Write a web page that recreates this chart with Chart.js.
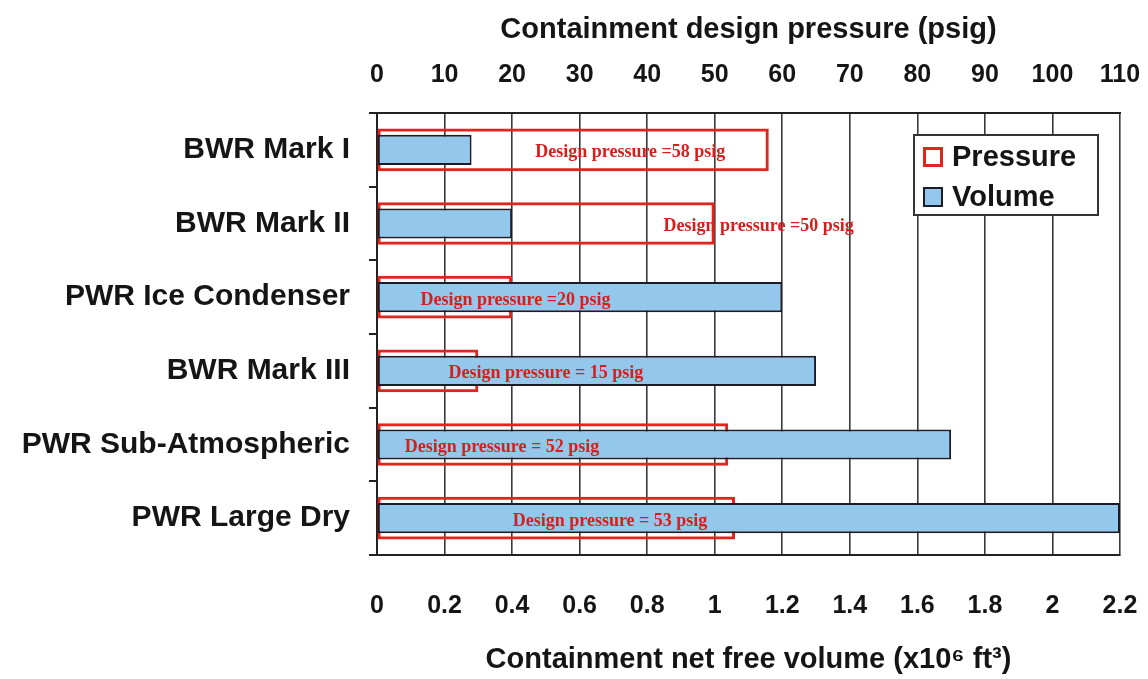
<!DOCTYPE html>
<html><head><meta charset="utf-8">
<script src="https://cdn.jsdelivr.net/npm/chart.js@4.4.0/dist/chart.umd.min.js"></script>
<style>html,body{margin:0;padding:0;background:#fff;} #wrap{width:1148px;height:679px;position:relative;}</style>
</head><body><div id="wrap"><canvas id="c"></canvas></div>
<script>
// ---- data ----
const categories = ['BWR Mark I', 'BWR Mark II', 'PWR Ice Condenser', 'BWR Mark III', 'PWR Sub-Atmospheric', 'PWR Large Dry'];
const pressurePsig = [58, 50, 20, 15, 52, 53];
const volumeMft3 = [0.28, 0.40, 1.20, 1.30, 1.70, 2.20];
const pressureTicks = [0, 10, 20, 30, 40, 50, 60, 70, 80, 90, 100, 110];
const volumeTicks = [0, 0.2, 0.4, 0.6, 0.8, 1, 1.2, 1.4, 1.6, 1.8, 2, 2.2];
const labelEq = ['=', '=', '=', '= ', '= ', '= '];
// ---- annotation placement (volume-axis units) ----
const labelCenterVolume = [0.75, 1.13, 0.41, 0.50, 0.37, 0.69];

const FONT = "'Liberation Sans', Arial, sans-serif";
const RED = '#e0251e';
const BLUE = '#93c8ec';
const DARK = '#1c1c28';

const barLabels = {
  id: 'barLabels',
  afterDatasetsDraw(chart) {
    const {ctx} = chart; const xs = chart.scales.x; const ys = chart.scales.y;
    ctx.save();
    ctx.font = "bold 18px 'Liberation Serif', 'Times New Roman', serif";
    ctx.fillStyle = '#d61f1b'; ctx.textAlign = 'center'; ctx.textBaseline = 'middle';
    categories.forEach((c, i) => {
      const txt = 'Design pressure ' + labelEq[i] + pressurePsig[i] + ' psig';
      ctx.fillText(txt, xs.getPixelForValue(labelCenterVolume[i]), ys.getPixelForValue(i) + 3);
    });
    ctx.restore();
  }
};

const boxLegend = {
  id: 'boxLegend',
  afterDraw(chart) {
    const {ctx, chartArea: ca} = chart;
    const w = 184, h = 80;
    const x = ca.right - 22 - w, y = ca.top + 22;
    ctx.save();
    ctx.fillStyle = '#fff'; ctx.fillRect(x, y, w, h);
    ctx.strokeStyle = '#333'; ctx.lineWidth = 2; ctx.strokeRect(x, y, w, h);
    const ds = chart.data.datasets;
    ds.forEach((d, i) => {
      const cy = y + 22 + i * 40;
      const ix = x + 9, s = 20;
      if (d.fillLegend) { ctx.fillStyle = d.backgroundColor; ctx.fillRect(ix, cy - s / 2, s, s); }
      ctx.strokeStyle = d.borderColor; ctx.lineWidth = d.borderWidth;
      ctx.strokeRect(ix + d.borderWidth / 2, cy - s / 2 + d.borderWidth / 2, s - d.borderWidth, s - d.borderWidth);
      ctx.fillStyle = '#151515'; ctx.font = 'bold 29px ' + FONT; ctx.textAlign = 'left'; ctx.textBaseline = 'middle';
      ctx.fillText(d.label, ix + s + 9, cy + 1);
    });
    ctx.restore();
  }
};

function noSidePad(s) { s.paddingLeft = 0; s.paddingRight = 0; }

new Chart(document.getElementById('c'), {
  type: 'bar',
  data: {
    labels: categories,
    datasets: [
      { label: 'Pressure', data: pressurePsig, xAxisID: 'x2', backgroundColor: 'rgba(0,0,0,0)', borderColor: RED, borderWidth: 3,
        borderSkipped: false, barPercentage: 0.58, categoryPercentage: 1, grouped: false, order: 2, fillLegend: false },
      { label: 'Volume', data: volumeMft3, xAxisID: 'x', backgroundColor: BLUE, borderColor: DARK, borderWidth: 2,
        borderSkipped: false, barPercentage: 0.41, categoryPercentage: 1, grouped: false, order: 1, fillLegend: true }
    ]
  },
  options: {
    indexAxis: 'y', responsive: true, maintainAspectRatio: false, animation: false,
    layout: { padding: { left: 0, right: 28, top: 0, bottom: 0 } },
    plugins: { legend: { display: false }, tooltip: { enabled: false } },
    scales: {
      y: {
        type: 'category',
        grid: { offset: true, drawOnChartArea: false, drawTicks: true, tickLength: 8, color: '#222', lineWidth: 2 },
        border: { display: true, color: '#222', width: 2 },
        ticks: { color: '#151515', font: { family: FONT, weight: 'bold', size: 30 }, padding: 19 },
        afterFit(s) { s.width = 377; }
      },
      x: {
        position: 'bottom', min: 0, max: 2.2,
        afterBuildTicks(s) { s.ticks = volumeTicks.map(v => ({ value: v })); },
        grid: { color: '#3a3a3a', lineWidth: 1.6, drawTicks: false },
        border: { display: true, color: '#222', width: 2 },
        ticks: { color: '#151515', font: { family: FONT, weight: 'bold', size: 25 }, padding: 36, maxRotation: 0, autoSkip: false,
                 callback: v => String(v) },
        title: { display: true, text: 'Containment net free volume (x10\u2076 ft\u00B3)', color: '#151515',
                 font: { family: FONT, weight: 'bold', size: 29 }, padding: { top: 0, bottom: 2 } },
        afterFit(s) { s.height = 124; noSidePad(s); }
      },
      x2: {
        position: 'top', min: 0, max: 110,
        afterBuildTicks(s) { s.ticks = pressureTicks.map(v => ({ value: v })); },
        grid: { drawOnChartArea: false, drawTicks: false },
        border: { display: true, color: '#222', width: 2 },
        ticks: { color: '#151515', font: { family: FONT, weight: 'bold', size: 25 }, padding: 23, maxRotation: 0, autoSkip: false },
        title: { display: true, text: 'Containment design pressure (psig)', color: '#151515',
                 font: { family: FONT, weight: 'bold', size: 29 }, padding: { top: 13, bottom: 0 } },
        afterFit(s) { s.height = 113; noSidePad(s); }
      }
    }
  },
  plugins: [barLabels, boxLegend]
});
</script>
</body></html>
